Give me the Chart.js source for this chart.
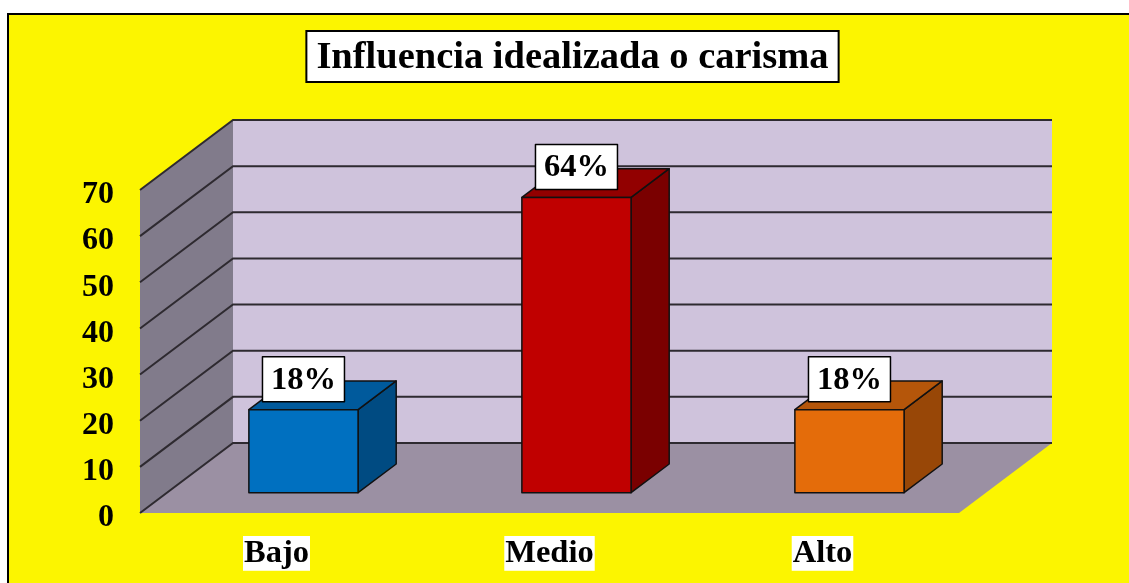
<!DOCTYPE html>
<html lang="es">
<head>
  <meta charset="UTF-8">
  <title>Influencia idealizada o carisma</title>
  <script src="https://cdn.jsdelivr.net/npm/chart.js"></script>
  <style>
    body { margin: 0; background: #fff; }
    canvas { display: block; }
  </style>
</head>
<body>

<canvas id="chart" width="1129" height="583"></canvas>

<script>
  // datos
  const categories = ['Bajo', 'Medio', 'Alto'];
  const values = [18, 64, 18];
  const valueLabels = ['18%', '64%', '18%'];
  const yMin = 0, yMax = 70, yStep = 10;
  const chartTitle = 'Influencia idealizada o carisma';

  // colores: frente, arriba, lado
  const barColors = [
    ['#0070C0', '#005A9C', '#004B82'],
    ['#C00000', '#920000', '#7A0000'],
    ['#E46C0A', '#B5560A', '#984707']
  ];

  const serif = '"Liberation Serif", "Times New Roman", serif';
  const depth = { dx: 93, dy: -70 };   // profundidad del piso
  const barFront = 0.29, barDepth = 0.41;

  function poly(ctx, pts, fill, stroke, lw) {
    ctx.beginPath();
    ctx.moveTo(pts[0][0], pts[0][1]);
    for (let i = 1; i < pts.length; i++) ctx.lineTo(pts[i][0], pts[i][1]);
    ctx.closePath();
    if (fill) { ctx.fillStyle = fill; ctx.fill(); }
    if (stroke) { ctx.strokeStyle = stroke; ctx.lineWidth = lw || 1; ctx.stroke(); }
  }

  const scene3d = {
    id: 'scene3d',
    beforeDraw(chart) {
      const ctx = chart.ctx;
      ctx.save();
      ctx.fillStyle = '#fff';
      ctx.fillRect(0, 0, chart.width, chart.height);
      ctx.fillStyle = '#FCF500';
      ctx.fillRect(8, 14, chart.width, chart.height);
      ctx.strokeStyle = '#000';
      ctx.lineWidth = 2;
      ctx.beginPath();
      ctx.moveTo(8, chart.height + 2);
      ctx.lineTo(8, 14);
      ctx.lineTo(chart.width + 2, 14);
      ctx.stroke();

      // titulo
      ctx.font = 'bold 38.5px ' + serif;
      const tw = ctx.measureText(chartTitle).width;
      const cx = 572.5, cy = 57;
      ctx.fillStyle = '#fff';
      ctx.fillRect(cx - tw / 2 - 10, 31, tw + 20, 51);
      ctx.lineWidth = 2;
      ctx.strokeRect(cx - tw / 2 - 10, 31, tw + 20, 51);
      ctx.fillStyle = '#000';
      ctx.textAlign = 'center';
      ctx.textBaseline = 'middle';
      ctx.fillText(chartTitle, cx, cy + 1);
      ctx.restore();
    },
    beforeDatasetsDraw(chart) {
      const ctx = chart.ctx;
      const a = chart.chartArea;
      const y = chart.scales.y;
      const y0 = y.getPixelForValue(yMin), y1 = y.getPixelForValue(yMax);
      const { dx, dy } = depth;
      ctx.save();
      // piso
      poly(ctx, [[a.left, y0], [a.right, y0], [a.right + dx, y0 + dy], [a.left + dx, y0 + dy]], '#9B90A3');
      // pared izquierda
      poly(ctx, [[a.left, y0], [a.left + dx, y0 + dy], [a.left + dx, y1 + dy], [a.left, y1]], '#817B8B');
      // pared del fondo
      poly(ctx, [[a.left + dx, y0 + dy], [a.right + dx, y0 + dy], [a.right + dx, y1 + dy], [a.left + dx, y1 + dy]], '#CFC3DC');
      // lineas de division
      ctx.strokeStyle = '#2E2A30';
      ctx.lineWidth = 2;
      for (let v = yMin; v <= yMax; v += yStep) {
        const py = y.getPixelForValue(v);
        ctx.beginPath();
        ctx.moveTo(a.left, py);
        ctx.lineTo(a.left + dx, py + dy);
        ctx.lineTo(a.right + dx, py + dy);
        ctx.stroke();
      }
      ctx.restore();
    },
    afterDatasetsDraw(chart) {
      const ctx = chart.ctx;
      const meta = chart.getDatasetMeta(0);
      const { dx, dy } = depth;
      ctx.save();
      ctx.lineJoin = 'round';
      meta.data.forEach((bar, i) => {
        const c = barColors[i];
        const ox = dx * barFront, oy = dy * barFront;
        const bx = dx * barDepth, by = dy * barDepth;
        const l = bar.x - bar.width / 2 + ox, r = bar.x + bar.width / 2 + ox;
        const t = bar.y + oy, b = bar.base + oy;
        // lado
        poly(ctx, [[r, b], [r + bx, b + by], [r + bx, t + by], [r, t]], c[2], '#111', 1.5);
        // arriba
        poly(ctx, [[l, t], [r, t], [r + bx, t + by], [l + bx, t + by]], c[1], '#111', 1.5);
        // frente
        poly(ctx, [[l, t], [r, t], [r, b], [l, b]], c[0], '#111', 1.5);

        // etiqueta
        ctx.font = 'bold 32.5px ' + serif;
        const tw = ctx.measureText(valueLabels[i]).width;
        const cx = (l + r) / 2;
        const boxW = tw + 17, boxH = 45;
        const boxB = t - 8;
        ctx.fillStyle = '#fff';
        ctx.fillRect(cx - boxW / 2, boxB - boxH, boxW, boxH);
        ctx.strokeStyle = '#000';
        ctx.lineWidth = 1.5;
        ctx.strokeRect(cx - boxW / 2, boxB - boxH, boxW, boxH);
        ctx.fillStyle = '#000';
        ctx.textAlign = 'center';
        ctx.textBaseline = 'middle';
        ctx.fillText(valueLabels[i], cx, boxB - boxH / 2 + 1);
      });
      ctx.restore();
    }
  };

  new Chart(document.getElementById('chart').getContext('2d'), {
    type: 'bar',
    data: {
      labels: categories,
      datasets: [{
        data: values,
        backgroundColor: 'rgba(0,0,0,0)',
        borderWidth: 0,
        barPercentage: 0.4,
        categoryPercentage: 1
      }]
    },
    options: {
      responsive: false,
      animation: false,
      devicePixelRatio: 1,
      layout: { padding: { left: 0, top: 190, right: 170, bottom: 0 } },
      plugins: {
        legend: { display: false },
        title: { display: false },
        tooltip: { enabled: false }
      },
      scales: {
        x: {
          grid: { display: false },
          border: { display: false },
          afterFit(scale) { scale.height = 70; },
          ticks: {
            color: '#000',
            padding: 15,
            font: { family: serif, size: 32.5, weight: 'bold', lineHeight: 1.07 },
            showLabelBackdrop: true,
            backdropColor: '#fff',
            backdropPadding: { left: 1, right: 1, top: 0, bottom: 0 }
          }
        },
        y: {
          min: yMin,
          max: yMax,
          grid: { display: false },
          border: { display: false },
          afterFit(scale) { scale.width = 140; },
          ticks: {
            stepSize: yStep,
            color: '#000',
            padding: 18,
            labelOffset: 5,
            font: { family: serif, size: 32, weight: 'bold' }
          }
        }
      }
    },
    plugins: [scene3d]
  });
</script>

</body>
</html>
